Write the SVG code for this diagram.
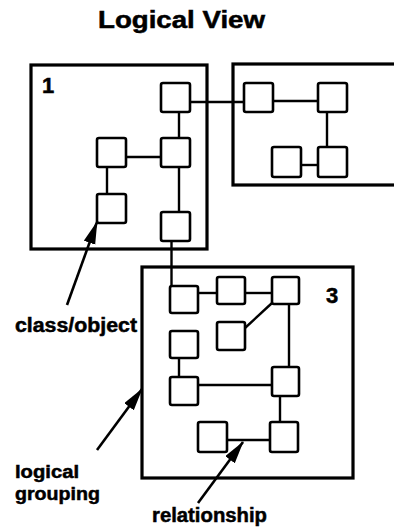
<svg xmlns="http://www.w3.org/2000/svg" width="394" height="529" viewBox="0 0 394 529">
  <style>
    text { font-family: "Liberation Sans", Arial, Helvetica, sans-serif; font-weight: bold; fill: #000; stroke: #000; stroke-width: 0.5; }
    .group { fill: none; stroke: #000; stroke-width: 3.2; }
    .node rect { fill: #fff; stroke: #000; stroke-width: 2.6; }
    .link { fill: none; stroke: #000; stroke-width: 2.4; }
    .note { fill: none; stroke: #000; stroke-width: 2.6; }
  </style>
  <defs>
    <marker id="head" markerUnits="userSpaceOnUse" markerWidth="24" markerHeight="14" refX="22" refY="6" orient="auto">
      <path d="M0,0 L23,6 L0,12 z" fill="#000"/>
    </marker>
  </defs>

  <rect width="394" height="529" fill="#fff"/>

  <text x="98" y="28" font-size="23" textLength="167" lengthAdjust="spacingAndGlyphs">Logical View</text>

  <!-- logical groupings -->
  <g id="group1">
    <rect class="group" x="31" y="65" width="176" height="184"/>
    <text x="42" y="93" font-size="22">1</text>
  </g>
  <g id="group2">
    <rect class="group" x="233" y="64" width="180" height="121"/>
  </g>
  <g id="group3">
    <rect class="group" x="142" y="267" width="211" height="211"/>
    <text x="326" y="303" font-size="22">3</text>
  </g>

  <!-- relationships -->
  <g id="connectors">
    <line class="link" x1="190" y1="102" x2="244" y2="102"/>
    <line class="link" x1="273" y1="101" x2="318" y2="101"/>
    <line class="link" x1="327" y1="112" x2="327" y2="147"/>
    <line class="link" x1="301" y1="165" x2="318" y2="165"/>
    <line class="link" x1="179" y1="112" x2="179" y2="138"/>
    <line class="link" x1="179" y1="167" x2="179" y2="212"/>
    <line class="link" x1="126" y1="157" x2="161" y2="157"/>
    <line class="link" x1="107" y1="167" x2="107" y2="194"/>
    <line class="link" x1="171.5" y1="241" x2="171.5" y2="286"/>
    <line class="link" x1="198" y1="293" x2="217" y2="293"/>
    <line class="link" x1="245" y1="293" x2="272" y2="293"/>
    <line class="link" x1="245" y1="328" x2="272" y2="303"/>
    <line class="link" x1="289" y1="304" x2="289" y2="367"/>
    <line class="link" x1="179" y1="358" x2="179" y2="377"/>
    <line class="link" x1="198" y1="385" x2="272" y2="385"/>
    <line class="link" x1="280" y1="396" x2="280" y2="422"/>
    <line class="link" x1="227" y1="440" x2="270" y2="440"/>
  </g>

  <!-- classes / objects -->
  <g id="n1a" class="node"><rect x="161" y="83" width="29" height="29" rx="2"/></g>
  <g id="n1b" class="node"><rect x="161" y="138" width="29" height="29" rx="2"/></g>
  <g id="n1c" class="node"><rect x="97" y="138" width="29" height="29" rx="2"/></g>
  <g id="n1d" class="node"><rect x="97" y="194" width="29" height="29" rx="2"/></g>
  <g id="n1e" class="node"><rect x="161" y="212" width="29" height="29" rx="2"/></g>

  <g id="n2a" class="node"><rect x="244" y="83" width="29" height="29" rx="2"/></g>
  <g id="n2b" class="node"><rect x="318" y="83" width="29" height="29" rx="2"/></g>
  <g id="n2c" class="node"><rect x="318" y="147" width="29" height="30" rx="2"/></g>
  <g id="n2d" class="node"><rect x="272" y="147" width="29" height="30" rx="2"/></g>

  <g id="n3a" class="node"><rect x="170" y="286" width="28" height="27" rx="2"/></g>
  <g id="n3b" class="node"><rect x="217" y="277" width="28" height="27" rx="2"/></g>
  <g id="n3c" class="node"><rect x="272" y="277" width="27" height="27" rx="2"/></g>
  <g id="n3d" class="node"><rect x="217" y="322" width="28" height="28" rx="2"/></g>
  <g id="n3e" class="node"><rect x="170" y="331" width="28" height="27" rx="2"/></g>
  <g id="n3f" class="node"><rect x="170" y="377" width="28" height="28" rx="2"/></g>
  <g id="n3g" class="node"><rect x="272" y="367" width="27" height="29" rx="2"/></g>
  <g id="n3h" class="node"><rect x="270" y="422" width="28" height="30" rx="2"/></g>
  <g id="n3i" class="node"><rect x="198" y="422" width="29" height="30" rx="2"/></g>

  <!-- annotations -->
  <g id="label-class">
    <line class="note" x1="67" y1="305" x2="97" y2="222" marker-end="url(#head)"/>
    <text x="15" y="332" font-size="20" textLength="122" lengthAdjust="spacingAndGlyphs">class/object</text>
  </g>
  <g id="label-grouping">
    <line class="note" x1="97" y1="450" x2="142" y2="389" marker-end="url(#head)"/>
    <text x="15" y="478" font-size="18" textLength="64" lengthAdjust="spacingAndGlyphs">logical</text>
    <text x="15" y="500" font-size="18" textLength="85" lengthAdjust="spacingAndGlyphs">grouping</text>
  </g>
  <g id="label-relationship">
    <line class="note" x1="198" y1="503" x2="243" y2="442" marker-end="url(#head)"/>
    <text x="152" y="522" font-size="20" textLength="115" lengthAdjust="spacingAndGlyphs">relationship</text>
  </g>
</svg>
